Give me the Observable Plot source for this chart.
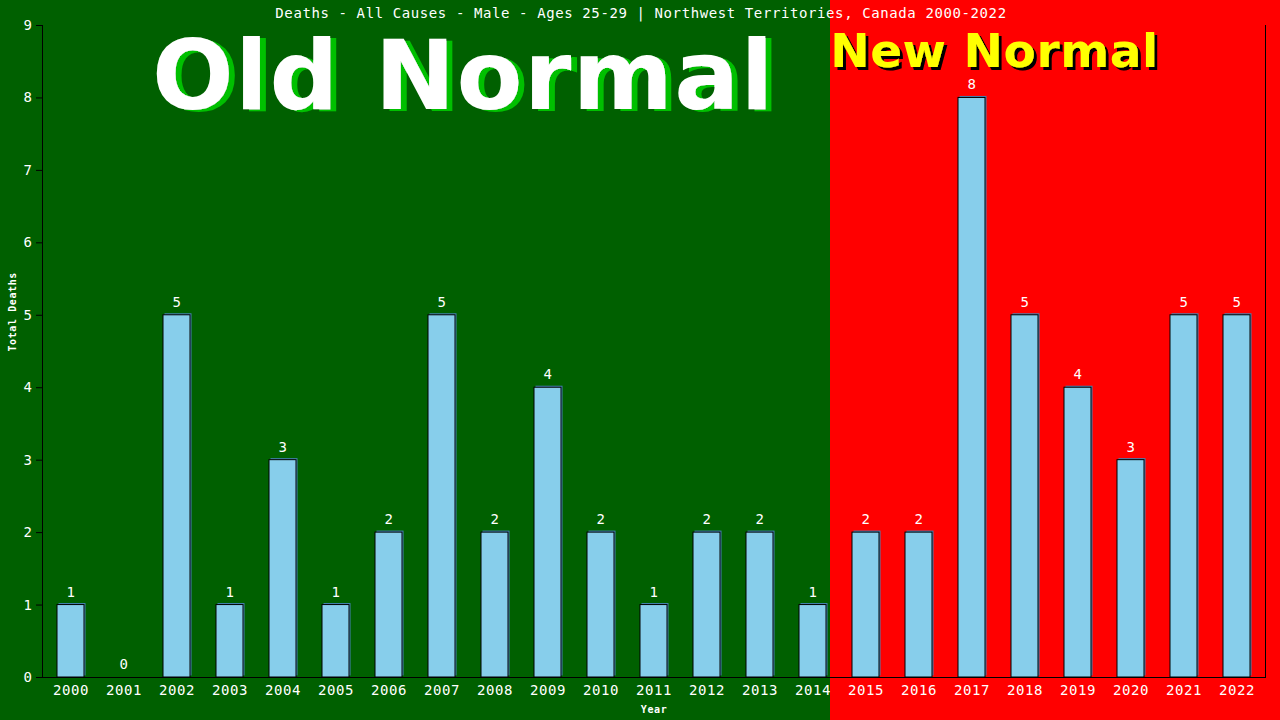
<!DOCTYPE html>
<html>
<head>
<meta charset="utf-8">
<script src="https://cdn.jsdelivr.net/npm/d3@7"></script>
<script src="https://cdn.jsdelivr.net/npm/@observablehq/plot@0.6"></script>
<style>
  html, body { margin: 0; padding: 0; background: #006000; }
  #chart svg { display: block; }
  #chart svg text { letter-spacing: 0.6px; }
</style>
</head>
<body>
<div id="chart"></div>
<script>
const years = ["2000","2001","2002","2003","2004","2005","2006","2007","2008","2009","2010","2011","2012","2013","2014","2015","2016","2017","2018","2019","2020","2021","2022"];
const deaths = [1,0,5,1,3,1,2,5,2,4,2,1,2,2,1,2,2,8,5,4,3,5,5];
const yTicks = [0,1,2,3,4,5,6,7,8,9];
const title = "Deaths - All Causes - Male - Ages 25-29 | Northwest Territories, Canada 2000-2022";
const oldLabel = "Old Normal";
const newLabel = "New Normal";
const xLabel = "Year";
const yLabel = "Total Deaths";

const data = years.map((y, i) => ({year: y, deaths: deaths[i]}));
const mono = "'DejaVu Sans Mono', 'Liberation Mono', monospace";
const sans = "'DejaVu Sans', Verdana, sans-serif";

const chart = Plot.plot({
  width: 1280,
  height: 720,
  marginLeft: 42,
  marginRight: 15,
  marginTop: 25,
  marginBottom: 43,
  style: {fontFamily: mono, fontSize: "14px", color: "white", background: "linear-gradient(to right, #006000 830px, #ff0000 830px)"},
  x: {domain: years, paddingInner: 0.5, paddingOuter: 0.25, label: null},
  y: {domain: [0, 9], label: null},
  marks: [
    Plot.barY(data, {x: "year", y: "deaths", fill: "#4682b4", dx: 1.5, dy: -1.5}),
    Plot.barY(data, {x: "year", y: "deaths", fill: "#87ceeb", stroke: "black", strokeWidth: 1}),
    Plot.text(data, {x: "year", y: "deaths", text: d => String(d.deaths), dy: -13, fill: "white", fontSize: 14}),
    Plot.axisY({ticks: yTicks, tickSize: 6, tickPadding: 4, stroke: "black", fill: "white", fontSize: 14, label: null}),
    Plot.axisX({tickSize: 0, tickPadding: 8, fill: "white", fontSize: 14, label: null}),
    Plot.frame({anchor: "left", stroke: "black"}),
    Plot.frame({anchor: "bottom", stroke: "black"}),
    Plot.frame({anchor: "right", stroke: "black"}),
    Plot.text([yLabel], {frameAnchor: "left", dx: -30, rotate: -90, fill: "white", fontSize: 10, fontWeight: "bold"}),
    Plot.text([xLabel], {frameAnchor: "bottom", dy: 35, fill: "white", fontSize: 10, fontWeight: "bold"}),
    Plot.text([title], {frameAnchor: "top", dx: -13, dy: -17, fill: "white", fontSize: 14}),
    Plot.text([oldLabel], {frameAnchor: "top-left", dx: 421, dy: 15, textAnchor: "middle", fill: "white", fontFamily: sans, fontWeight: "bold", fontSize: 96, letterSpacing: 1}),
    Plot.text([newLabel], {frameAnchor: "top-left", dx: 952, dy: 8, textAnchor: "middle", fill: "#ffff00", fontFamily: sans, fontWeight: "bold", fontSize: 47})
  ]
});

// drop-shadow styling for the two big banner texts
const svg = d3.select(chart);
const defs = svg.insert("defs", ":first-child");
function shadow(id, dx, dy, color) {
  const f = defs.append("filter").attr("id", id)
    .attr("x", "-10%").attr("y", "-30%").attr("width", "130%").attr("height", "160%");
  f.append("feDropShadow").attr("dx", dx).attr("dy", dy).attr("stdDeviation", 0)
    .attr("flood-color", color).attr("flood-opacity", 1);
}
shadow("shadowOld", 6, 2, "#00c000");
shadow("shadowNew", 3, 3, "#000000");
svg.selectAll("text").each(function() {
  const t = this.textContent;
  if (t === oldLabel) { this.setAttribute("filter", "url(#shadowOld)"); this.style.letterSpacing = "1.5px"; }
  if (t === newLabel) this.setAttribute("filter", "url(#shadowNew)");
});
document.getElementById("chart").appendChild(chart);
</script>
</body>
</html>
